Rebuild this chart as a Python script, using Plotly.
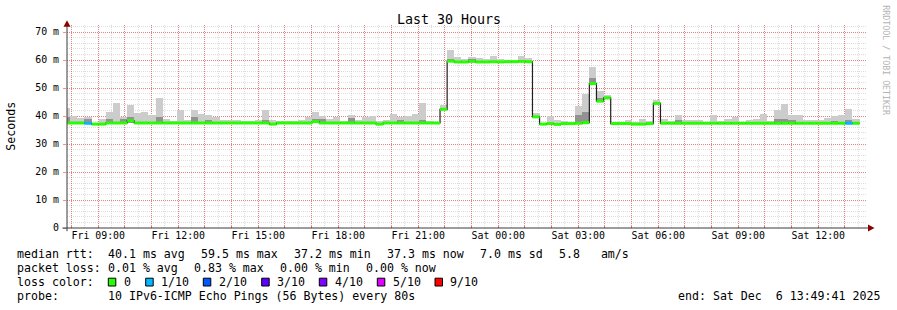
import plotly.graph_objects as go
import pandas as pd

FONT = "DejaVu Sans Mono"

# ---------------- data (16-minute consolidated buckets) ----------------
bucket_start = pd.Timestamp("2025-12-05 07:41:00")
bucket_minutes = 16

median_ms = [
    37.5, 37.5, 37.5, 37.4, 37.1, 37.1, 37.5, 37.5, 37.5, 38.3,
    37.5, 37.5, 37.5, 37.5, 37.5, 37.5, 37.5, 37.5, 37.5, 37.5,
    37.5, 37.5, 37.5, 37.5, 37.5, 37.5, 37.5, 37.5, 37.5, 37.1,
    37.5, 37.5, 37.5, 37.5, 37.5, 38.0, 37.5, 37.5, 37.5, 37.5,
    37.5, 37.5, 37.5, 37.5, 37.1, 37.5, 37.5, 37.5, 37.5, 37.5,
    37.5, 37.5, 37.5, 42.4, 59.6, 59.3, 59.3, 59.5, 59.3, 59.3,
    59.4, 59.3, 59.4, 59.4, 59.5, 59.4, 39.7, 37.1, 37.3, 37.0,
    37.3, 37.3, 37.4, 37.6, 51.6, 45.3, 46.5, 37.3, 37.3, 37.3,
    37.1, 37.1, 37.3, 44.5, 37.4, 37.4, 37.4, 37.4, 37.4, 37.4,
    37.4, 37.4, 37.4, 37.4, 37.4, 37.4, 37.4, 37.4, 37.4, 37.4,
    37.4, 37.4, 37.4, 37.4, 37.4, 37.4, 37.4, 37.4, 37.4, 37.4,
    37.4, 37.4,
]

smoke_max_ms = [
    42.8, 40.1, 39.3, 39.5, 37.5, 39.0, 41.6, 44.6, 39.6, 44.0,
    41.1, 41.3, 40.5, 46.6, 39.0, 38.3, 42.3, 38.6, 42.3, 40.8,
    40.3, 39.5, 38.6, 38.6, 38.6, 38.3, 38.3, 38.6, 42.3, 38.6,
    38.3, 38.0, 38.3, 38.6, 39.5, 41.6, 40.1, 39.0, 39.5, 38.3,
    40.5, 38.6, 39.5, 40.0, 38.3, 38.6, 40.8, 39.6, 40.1, 40.8,
    44.6, 38.0, 37.8, 44.0, 63.7, 61.1, 60.5, 61.1, 60.7, 60.5,
    61.3, 60.5, 60.1, 60.1, 61.3, 60.7, 41.0, 37.5, 40.1, 38.7,
    38.3, 37.8, 43.4, 47.8, 57.4, 48.8, 47.6, 37.8, 37.8, 38.7,
    37.8, 38.8, 38.3, 45.8, 39.0, 38.3, 40.5, 38.6, 38.6, 38.6,
    37.8, 40.5, 38.3, 39.0, 39.5, 38.0, 38.6, 39.0, 40.8, 38.3,
    42.0, 44.4, 40.5, 40.3, 38.6, 38.6, 38.6, 39.2, 40.0, 40.3,
    42.6, 39.0,
]

# darker inner smoke band: bucket index -> top of band (ms)
smoke_dark_top = {
    0: 39.5, 3: 38.8, 6: 39.0, 8: 39.0, 9: 39.5, 13: 39.8, 18: 39.5,
    20: 38.6, 28: 38.5, 35: 38.8, 36: 39.0, 40: 39.2, 47: 38.5, 50: 38.5,
    53: 42.9, 54: 60.5, 57: 60.3, 64: 60.0, 72: 40.5, 73: 41.5, 74: 53.5,
    75: 46.5, 86: 38.5, 100: 38.8, 101: 39.0, 102: 38.5, 108: 38.3, 110: 38.5,
}
# smoke lower edge where it lies below the median
smoke_low_override = {9: 37.4, 35: 37.4, 73: 37.2}

loss_tenths = [
    0, 0, 0, 1, 0, 0, 0, 0, 0, 0, 0, 0, 0, 0, 0, 0, 0, 0, 0, 0,
    0, 0, 0, 0, 0, 0, 0, 0, 0, 0, 0, 0, 0, 0, 0, 0, 0, 0, 0, 0,
    0, 0, 0, 0, 0, 0, 0, 0, 0, 0, 0, 0, 0, 0, 0, 0, 0, 0, 0, 0,
    0, 0, 0, 0, 0, 0, 0, 0, 0, 0, 0, 0, 0, 0, 0, 0, 0, 0, 0, 0,
    0, 0, 0, 0, 0, 0, 0, 0, 0, 0, 0, 0, 0, 0, 0, 0, 0, 0, 0, 0,
    0, 0, 0, 0, 0, 0, 0, 0, 0, 0, 1, 0,
]

loss_levels = [0, 1, 2, 3, 4, 5, 9]
loss_labels = ["0", "1/10", "2/10", "3/10", "4/10", "5/10", "9/10"]
loss_colors = ["#26ff00", "#00b8ff", "#0059ff", "#5e00ff", "#7e00ff", "#dd00ff", "#ff0000"]

x_range = ["2025-12-05 07:49:41", "2025-12-06 13:49:41"]
hour_ticks = pd.date_range("2025-12-05 08:00", "2025-12-06 13:00", freq="h")
labelled_ticks = {
    "2025-12-05 09:00": "Fri 09:00", "2025-12-05 12:00": "Fri 12:00",
    "2025-12-05 15:00": "Fri 15:00", "2025-12-05 18:00": "Fri 18:00",
    "2025-12-05 21:00": "Fri 21:00", "2025-12-06 00:00": "Sat 00:00",
    "2025-12-06 03:00": "Sat 03:00", "2025-12-06 06:00": "Sat 06:00",
    "2025-12-06 09:00": "Sat 09:00", "2025-12-06 12:00": "Sat 12:00",
}
y_tick_vals = [0, 10, 20, 30, 40, 50, 60, 70]
y_tick_text = ["0", "10 m", "20 m", "30 m", "40 m", "50 m", "60 m", "70 m"]

legend_rows = [
    ("median rtt:", [("40.1 ms avg", 107.3), ("59.5 ms max", 200.0), ("37.2 ms min", 293.3),
                     ("37.3 ms now", 386.0), ("7.0 ms sd", 479.3), ("5.8   am/s", 558.3)], 254.3),
    ("packet loss:", [("0.01 % avg", 107.3), ("0.83 % max", 193.3), ("0.00 % min", 279.3),
                      ("0.00 % now", 365.3)], 268.3),
    ("probe:", [("10 IPv6-ICMP Echo Pings (56 Bytes) every 80s", 107.3)], 296.0),
]
loss_swatch_x = [108.3, 145.7, 203.3, 261.7, 319.3, 377.3, 435.0]
end_text = "end: Sat Dec  6 13:49:41 2025"

# ---------------- geometry helpers (pixel -> paper) ----------------
PL, PR, PT, PB = 67.0, 867.0, 25.3, 228.3
W, H = 897, 310


def px(xp):
    return (xp - PL) / (PR - PL)


def py(yp):
    return (PB - yp) / (PB - PT)


def nb(s):
    return s.replace(" ", "\u00a0")


n = len(median_ms)
step = pd.Timedelta(minutes=bucket_minutes)
starts = [bucket_start + i * step for i in range(n)]
centers = [s + step / 2 for s in starts]
width_ms = bucket_minutes * 60 * 1000

lows = [smoke_low_override.get(i, median_ms[i]) for i in range(n)]
dark_tops = [smoke_dark_top.get(i, lows[i]) for i in range(n)]

fig = go.Figure()

# light smoke
fig.add_trace(go.Bar(
    x=centers, base=lows, y=[smoke_max_ms[i] - lows[i] for i in range(n)],
    width=width_ms, marker=dict(color="#cccccc", line=dict(width=0)),
    hoverinfo="skip", showlegend=False))
# darker smoke
fig.add_trace(go.Bar(
    x=centers, base=lows, y=[dark_tops[i] - lows[i] for i in range(n)],
    width=width_ms, marker=dict(color="#929292", line=dict(width=0)),
    hoverinfo="skip", showlegend=False))

# black median step line
fig.add_trace(go.Scatter(
    x=starts + [starts[-1] + step], y=median_ms + [median_ms[-1]],
    mode="lines", line=dict(color="#202020", width=1.2, shape="hv"),
    hoverinfo="skip", showlegend=False))

# loss-coloured median bands
for lvl, col in zip(loss_levels, loss_colors):
    xs, ys = [], []
    for i in range(n):
        if loss_tenths[i] == lvl:
            xs += [starts[i], starts[i] + step, None]
            ys += [median_ms[i], median_ms[i], None]
    if xs:
        fig.add_trace(go.Scatter(x=xs, y=ys, mode="lines",
                                 line=dict(color=col, width=3),
                                 hoverinfo="skip", showlegend=False))

major_grid = "rgba(255,0,0,0.42)"
minor_grid = "rgba(150,150,150,0.32)"

fig.update_layout(
    width=W, height=H, autosize=False,
    margin=dict(l=PL, r=W - PR, t=PT, b=H - PB, pad=0),
    paper_bgcolor="white", plot_bgcolor="white",
    barmode="overlay", bargap=0, showlegend=False, hovermode=False,
    font=dict(family=FONT, color="black"),
    xaxis=dict(
        type="date", range=x_range, showline=False, zeroline=False,
        tickmode="array", tickvals=list(hour_ticks),
        ticktext=[labelled_ticks.get(t.strftime("%Y-%m-%d %H:%M"), "") for t in hour_ticks],
        ticks="inside", ticklen=2, tickcolor="rgba(255,0,0,0.5)",
        tickfont=dict(family=FONT, size=9.9, color="black"),
        showgrid=True, gridcolor=major_grid, griddash="1px,1px", gridwidth=1,
        minor=dict(dtick=30 * 60 * 1000, tick0="2025-12-05 08:00", showgrid=True,
                   gridcolor=minor_grid, griddash="1px,1px", ticks=""),
        fixedrange=True,
    ),
    yaxis=dict(
        range=[0, 72.5], showline=False, zeroline=False,
        tickmode="array", tickvals=y_tick_vals, ticktext=y_tick_text,
        ticks="outside", ticklen=3, tickcolor="rgba(255,0,0,0.45)",
        tickfont=dict(family=FONT, size=9.9, color="black"),
        ticklabelstandoff=2,
        showgrid=True, gridcolor=major_grid, griddash="1px,1px", gridwidth=1,
        minor=dict(dtick=2, showgrid=True, gridcolor=minor_grid, griddash="1px,1px", ticks=""),
        fixedrange=True,
    ),
)

shapes = []
axis_col = "#3a3a3a"
arrow_col = "#8b0000"
# y axis + arrow
shapes.append(dict(type="line", xref="paper", yref="paper", x0=px(67), x1=px(67),
                   y0=py(231.5), y1=py(26.5), line=dict(color=axis_col, width=1)))
shapes.append(dict(type="path", xref="paper", yref="paper",
                   path=f"M {px(67)} {py(20.5)} L {px(63.5)} {py(27)} L {px(70.5)} {py(27)} Z",
                   fillcolor=arrow_col, line=dict(width=0)))
# x axis + arrow
shapes.append(dict(type="line", xref="paper", yref="paper", x0=px(62.5), x1=px(868),
                   y0=py(228.3), y1=py(228.3), line=dict(color=axis_col, width=1)))
shapes.append(dict(type="path", xref="paper", yref="paper",
                   path=f"M {px(874.5)} {py(228.3)} L {px(868)} {py(224.8)} L {px(868)} {py(231.8)} Z",
                   fillcolor=arrow_col, line=dict(width=0)))
# loss colour swatches
for sx, col in zip(loss_swatch_x, loss_colors):
    shapes.append(dict(type="rect", xref="paper", yref="paper",
                       x0=px(sx), x1=px(sx + 7.5), y0=py(286.3), y1=py(278.5),
                       fillcolor=col, line=dict(color="black", width=1)))

ann = []


def text(x, y, s, size=11.6, xanchor="left", color="black", angle=0):
    ann.append(dict(x=px(x), y=py(y), xref="paper", yref="paper", text=nb(s),
                    showarrow=False, xanchor=xanchor, yanchor="middle",
                    textangle=angle, borderpad=0,
                    font=dict(family=FONT, size=size, color=color)))


text(448.5, 19.5, "Last 30 Hours", size=13.3, xanchor="center")
text(11.5, 126.5, "Seconds", size=11.6, xanchor="center", angle=-90)
text(886.5, 60, "RRDTOOL / TOBI OETIKER", size=8.3, xanchor="center", color="#b4b4b4", angle=90)

for head, items, yy in legend_rows:
    text(15.5, yy, head)
    for s, xx in items:
        text(xx - 0.5, yy, s)
text(15.5, 282.3, "loss color:")
for sx, lab in zip(loss_swatch_x, loss_labels):
    text(sx + 14.2, 282.3, lab)
text(880.5, 296.0, end_text, xanchor="right")

fig.update_layout(shapes=shapes, annotations=ann)

fig.write_html("out.html")
